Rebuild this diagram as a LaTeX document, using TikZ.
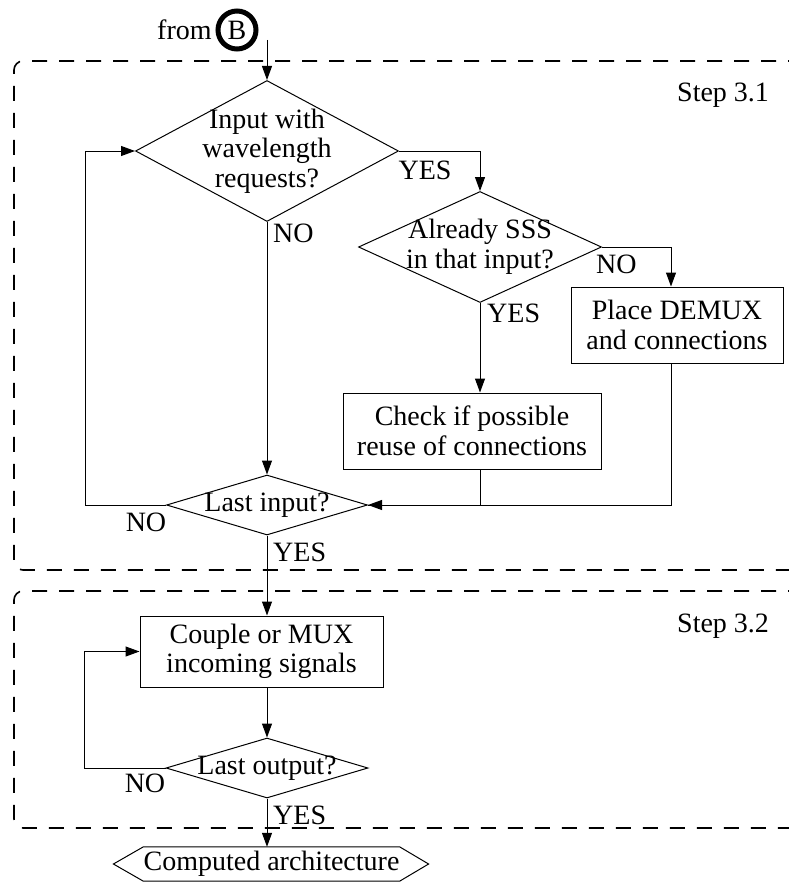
\documentclass[tikz,border=0pt]{standalone}
\usepackage{fontspec}
\setmainfont{Liberation Serif}
\usetikzlibrary{shapes.geometric,arrows.meta}
\begin{document}
\begin{tikzpicture}[x=1pt,y=-1pt,
  every node/.style={font=\fontsize{28}{29.5}\selectfont},
  arr/.style={-{Triangle[length=14pt,width=10pt]}, line width=1pt},
  ln/.style={line width=1pt},
  dia/.style={draw, shape=diamond, inner sep=0pt, line width=1pt},
  boxn/.style={draw, rectangle, inner sep=0pt, line width=1pt, align=center},
  dbox/.style={dash pattern=on 15pt off 12pt, line width=1.6pt, rounded corners=9pt},
  lbl/.style={inner sep=0pt}
]
\useasboundingbox (0,0) rectangle (788,888);

% dashed step regions
\draw[dbox] (830,61) -- (14,61) -- (14,570) -- (830,570);
\draw[dbox] (830,591) -- (14,591) -- (14,828) -- (830,828);
\node[lbl, anchor=base west] (s31) at (677,102) {Step 3.1};
\node[lbl, anchor=base west] (s32) at (677,632) {Step 3.2};

% start
\node[lbl, anchor=base west] (from) at (157,40) {from};
\node[draw, circle, line width=5pt, minimum size=38pt, inner sep=0pt] (B) at (237,30) {B};
\coordinate (s) at (267,40);

% shapes
\node[dia, minimum width=263pt, minimum height=141pt,
  label={[align=center, inner sep=0pt]center:Input with\\wavelength\\requests?}] (d1) at (267,151) {};
\node[dia, minimum width=243pt, minimum height=111pt,
  label={[align=center, inner sep=0pt]center:Already SSS\\in that input?}] (d2) at (480,247) {};
\node[boxn, minimum width=212pt, minimum height=76pt] (b3) at (677,325) {Place DEMUX\\and connections};
\node[boxn, minimum width=258pt, minimum height=76pt] (b4) at (472,431) {Check if possible\\reuse of connections};
\node[dia, minimum width=201pt, minimum height=60pt,
  label={[inner sep=0pt]center:Last input?}] (d4) at (267,505) {};
\node[boxn, minimum width=243pt, minimum height=71pt] (b5) at (261.5,651.5) {Couple or MUX\\incoming signals};
\node[dia, minimum width=202pt, minimum height=60pt,
  label={[inner sep=0pt]center:Last output?}] (d6) at (267,768) {};
\node[inner sep=0pt, minimum width=233pt, minimum height=34pt] (hx) at (271.5,864) {Computed architecture};
\draw[ln] (hx.north west) -- (hx.north east) -- ([xshift=29pt]hx.east) -- (hx.south east)
  -- (hx.south west) -- ([xshift=-30pt]hx.west) -- cycle;

% connectors
\draw[arr] (s) -- (d1.north);
\draw[arr] (d1.east) -| (d2.north);
\draw[arr] (d2.east) -| ([xshift=-6pt]b3.north);
\draw[arr] (d2.south) -- (d2.south |- b4.north);
\draw[arr] (d1.south) -- (d4.north);
\draw[ln] (d2.south |- b4.south) |- (d4.east);
\draw[arr] ([xshift=-6pt]b3.south) |- (d4.east);
\draw[arr] (d4.west) -- ++(-81,0) |- (d1.west);
\draw[arr] (d4.south) -- (d4.south |- b5.north);
\draw[arr] (d4.south |- b5.south) -- (d6.north);
\draw[arr] (d6.west) -- ++(-81,0) |- (b5.west);
\draw[arr] (d6.south) -- (d6.south |- hx.north);

% branch labels
\node[lbl] (y1) at (425,170) {YES};
\node[lbl, anchor=west] (n1) at (273,233) {NO};
\node[lbl, anchor=west] (n2) at (596,264) {NO};
\node[lbl, anchor=west] (y2) at (487,313) {YES};
\node[lbl] (n4) at (146,522) {NO};
\node[lbl, anchor=west] (y4) at (273,552) {YES};
\node[lbl] (n6) at (145,783) {NO};
\node[lbl, anchor=west] (y6) at (273,815) {YES};
\end{tikzpicture}
\end{document}
